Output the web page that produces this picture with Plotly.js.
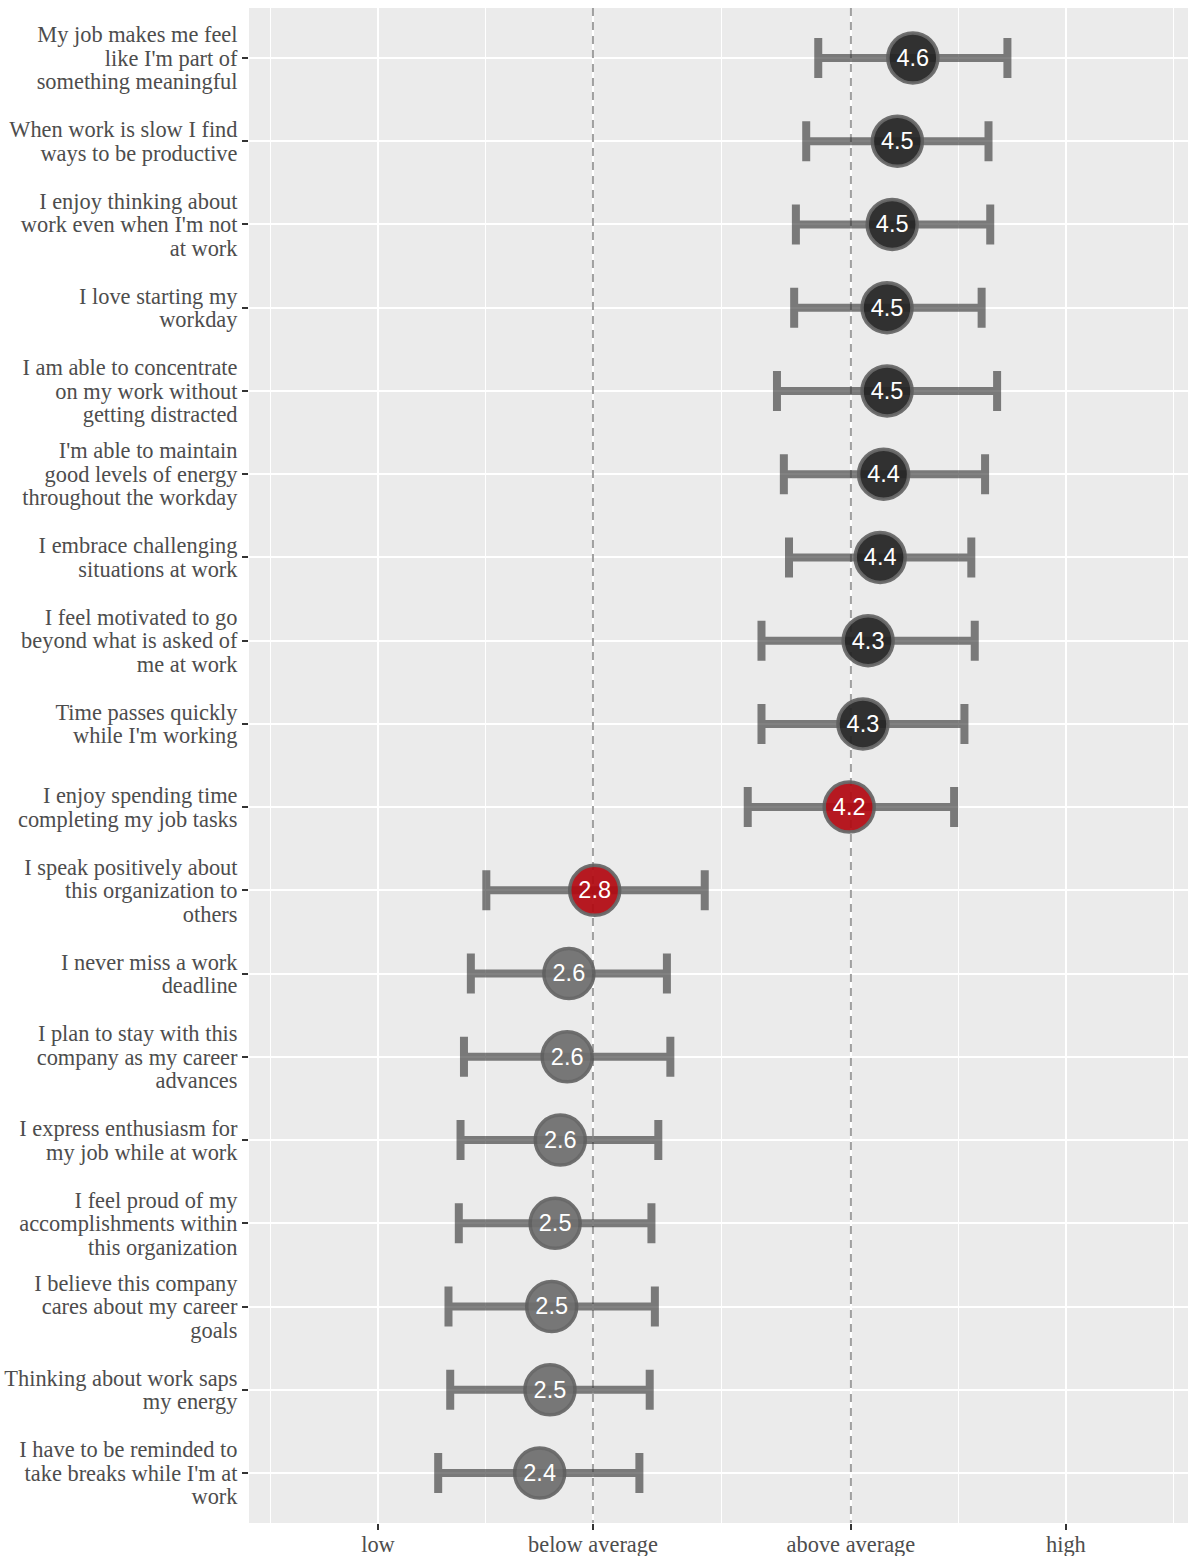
<!DOCTYPE html>
<html>
<head>
<meta charset="utf-8">
<script src="https://cdn.plot.ly/plotly-3.0.1.min.js"></script>
<style>
  html, body { margin: 0; padding: 0; background: #ffffff; }
  #chart { width: 1188px; height: 1556px; }
</style>
</head>
<body>
<div id="chart"></div>
<script>
// Survey items, top to bottom
const items = [
  "My job makes me feel like I'm part of something meaningful",
  "When work is slow I find ways to be productive",
  "I enjoy thinking about work even when I'm not at work",
  "I love starting my workday",
  "I am able to concentrate on my work without getting distracted",
  "I'm able to maintain good levels of energy throughout the workday",
  "I embrace challenging situations at work",
  "I feel motivated to go beyond what is asked of me at work",
  "Time passes quickly while I'm working",
  "I enjoy spending time completing my job tasks",
  "I speak positively about this organization to others",
  "I never miss a work deadline",
  "I plan to stay with this company as my career advances",
  "I express enthusiasm for my job while at work",
  "I feel proud of my accomplishments within this organization",
  "I believe this company cares about my career goals",
  "Thinking about work saps my energy",
  "I have to be reminded to take breaks while I'm at work"
];

// Mean score per item and the interval around it
const means = [4.61, 4.52, 4.49, 4.46, 4.46, 4.44, 4.42, 4.35, 4.32, 4.24,
               2.76, 2.61, 2.60, 2.56, 2.53, 2.51, 2.50, 2.44];
const lower = [4.06, 3.99, 3.93, 3.92, 3.82, 3.86, 3.89, 3.73, 3.73, 3.65,
               2.13, 2.04, 2.00, 1.98, 1.97, 1.91, 1.92, 1.85];
const upper = [5.16, 5.05, 5.06, 5.01, 5.10, 5.03, 4.95, 4.97, 4.91, 4.85,
               3.40, 3.18, 3.20, 3.13, 3.09, 3.11, 3.08, 3.02];

// Items called out in red
const highlighted = [
  "I enjoy spending time completing my job tasks",
  "I speak positively about this organization to others"
];

// Score scale labels
const levelValues = [1.5, 2.75, 4.25, 5.5];
const levelLabels = ["low", "below average", "above average", "high"];

// Greedy word wrap for the item labels
function wrap(text, width) {
  const words = text.split(" ");
  const lines = [];
  let line = "";
  words.forEach(w => {
    if (line === "") line = w;
    else if ((line + " " + w).length <= width) line += " " + w;
    else { lines.push(line); line = w; }
  });
  if (line) lines.push(line);
  return lines.join("<br>");
}

const labels = items.map(s => wrap(s, 24));
const belowAvg = levelValues[1];
const aboveAvg = levelValues[2];
const midScore = (belowAvg + aboveAvg) / 2;

const fills = items.map((s, i) =>
  highlighted.includes(s) ? "#b20a12" : (means[i] > midScore ? "#232323" : "#6f6f6f"));

// minor grid halfway between the scale labels, plus one step past each end
const minorVals = [];
minorVals.push(levelValues[0] - (levelValues[1] - levelValues[0]) / 2);
for (let i = 0; i < levelValues.length - 1; i++) minorVals.push((levelValues[i] + levelValues[i + 1]) / 2);
const n = levelValues.length;
minorVals.push(levelValues[n - 1] + (levelValues[n - 1] - levelValues[n - 2]) / 2);

const yRange = [labels.length - 0.4, -0.6];

const serif = '"Liberation Serif", "Times New Roman", Times, serif';
const sans = '"Liberation Sans", Arial, Helvetica, sans-serif';

const trace = {
  type: "scatter",
  mode: "markers+text",
  x: means,
  y: labels,
  text: means.map(v => v.toFixed(1)),
  textposition: "middle center",
  textfont: { family: sans, size: 23.5, color: "#ffffff" },
  marker: {
    size: 50,
    color: fills,
    opacity: 0.93,
    line: { color: "rgba(95,95,95,0.95)", width: 3.5 }
  },
  error_x: {
    type: "data",
    symmetric: false,
    array: upper.map((u, i) => u - means[i]),
    arrayminus: means.map((m, i) => m - lower[i]),
    color: "rgba(51,51,51,0.62)",
    thickness: 8,
    width: 20
  },
  cliponaxis: false,
  hoverinfo: "skip",
  showlegend: false
};

const layout = {
  width: 1188,
  height: 1556,
  margin: { l: 249, r: 0, t: 8, b: 33 },
  paper_bgcolor: "#ffffff",
  plot_bgcolor: "#ebebeb",
  showlegend: false,
  xaxis: {
    range: [0.75, 6.21],
    tickmode: "array",
    tickvals: levelValues,
    ticktext: levelLabels,
    showgrid: true,
    gridcolor: "#ffffff",
    gridwidth: 2,
    zeroline: false,
    showline: false,
    ticks: "outside",
    ticklen: 6,
    tickwidth: 2,
    tickcolor: "#333333",
    ticklabelstandoff: -5,
    tickfont: { family: serif, size: 22.4, color: "#4d4d4d" },
    minor: {
      tickmode: "array",
      tickvals: minorVals,
      showgrid: true,
      gridcolor: "#ffffff",
      gridwidth: 1,
      ticks: ""
    },
    fixedrange: true
  },
  yaxis: {
    type: "category",
    categoryorder: "array",
    categoryarray: labels,
    range: yRange,
    showgrid: true,
    gridcolor: "#ffffff",
    gridwidth: 2,
    zeroline: false,
    showline: false,
    ticks: "outside",
    ticklen: 6,
    tickwidth: 2,
    tickcolor: "#333333",
    tickfont: { family: serif, size: 22.4, color: "#4d4d4d" },
    fixedrange: true
  },
  // dashed reference lines at the two average levels, above the grid and below the points
  shapes: [belowAvg, aboveAvg].map(v => ({
    type: "line",
    xref: "x", yref: "y",
    x0: v, x1: v, y0: yRange[1], y1: yRange[0],
    line: { color: "#a0a0a0", width: 2, dash: "8px,6px" },
    layer: "between"
  }))
};

// tighter line spacing for the wrapped item labels
function tightenLabels() {
  const k = 1.05, base = 1.3;
  document.querySelectorAll("#chart .ytick text").forEach(t => {
    const lines = t.querySelectorAll("tspan.line");
    const count = lines.length;
    if (count < 2) return;
    lines.forEach((ln, i) => {
      const dy = i * k + (count - 1) * (base - k) / 2;
      ln.setAttribute("dy", dy + "em");
    });
  });
}

// sit the value text optically centred in each circle
function centreValueText() {
  document.querySelectorAll("#chart .textpoint text").forEach(t => {
    const y = parseFloat(t.getAttribute("y"));
    if (!isNaN(y)) t.setAttribute("y", y + 2);
  });
}

Plotly.newPlot("chart", [trace], layout, { staticPlot: true, displayModeBar: false })
  .then(() => { tightenLabels(); centreValueText(); });
</script>
</body>
</html>
